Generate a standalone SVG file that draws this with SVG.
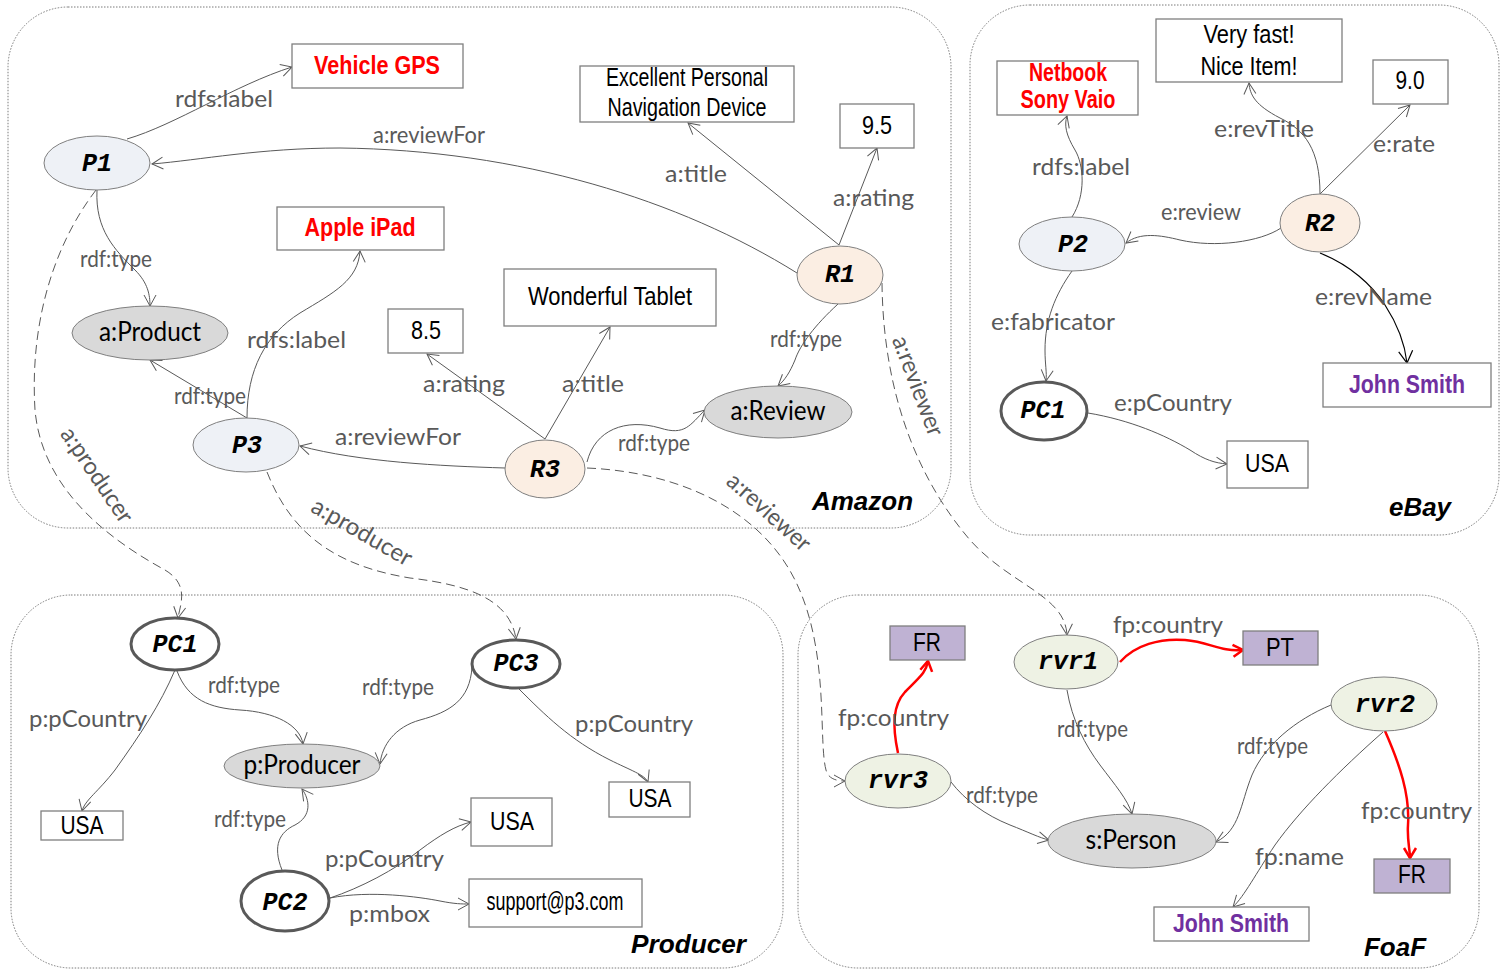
<svg xmlns="http://www.w3.org/2000/svg" width="1501" height="969" viewBox="0 0 1501 969">
<defs>
<style>
.cont{fill:none;stroke:#7a7a7a;stroke-width:1;stroke-dasharray:1.5 1.5}
.ct{font-family:"Liberation Sans",Arial,sans-serif;font-weight:bold;font-style:italic;font-size:26px;fill:#000}
.lbl{font-family:Lato,"Liberation Sans",sans-serif;font-size:24px;fill:#595959}
.bx{fill:#fff;stroke:#7f7f7f;stroke-width:1.3}
.bxp{fill:#bfb2d3;stroke:#7f7f7f;stroke-width:1.3}
.bt{font-family:"Liberation Sans Narrow","Liberation Sans",Arial,sans-serif;font-size:25px;fill:#000}
.red{fill:#ff0000;font-weight:bold}
.pur{fill:#7030a0;font-weight:bold}
.nt{font-family:"Liberation Mono","Courier New",monospace;font-weight:bold;font-style:italic;font-size:25px;fill:#000}
.ct2{font-family:Lato,"Liberation Sans",sans-serif;font-size:26px;fill:#000}
.np{fill:#eef1f6;stroke:#7f7f7f;stroke-width:1}
.nr{fill:#fbeee3;stroke:#7f7f7f;stroke-width:1}
.nc{fill:#d9d9d9;stroke:#7f7f7f;stroke-width:1}
.npc{fill:#fff;stroke:#595959;stroke-width:3}
.nv{fill:#eef2e4;stroke:#7f7f7f;stroke-width:1}
.e{fill:none;stroke:#595959;stroke-width:1;marker-end:url(#ah)}
.d{stroke-dasharray:9 5}
.re{fill:none;stroke:#ff0000;stroke-width:2.5;marker-end:url(#rh)}
.be{fill:none;stroke:#000;stroke-width:1.2;marker-end:url(#bh)}
</style>
<marker id="ah" markerUnits="userSpaceOnUse" markerWidth="16" markerHeight="16" refX="12" refY="7" orient="auto"><path d="M1,1 L12,7 L1,13" fill="none" stroke="#595959" stroke-width="1"/></marker>
<marker id="bh" markerUnits="userSpaceOnUse" markerWidth="18" markerHeight="18" refX="13" refY="8" orient="auto"><path d="M1,1 L13,8 L1,15" fill="none" stroke="#000" stroke-width="1.2"/></marker>
<marker id="rh" markerUnits="userSpaceOnUse" markerWidth="18" markerHeight="18" refX="12" refY="8" orient="auto"><path d="M2,2 L12,8 L2,14" fill="none" stroke="#ff0000" stroke-width="2.5"/></marker>
</defs>
<rect width="1501" height="969" fill="#fff"/>

<g id="containers">
<rect x="8" y="7" width="943" height="521" rx="60" class="cont"/>
<text x="812" y="510" class="ct" textLength="101" lengthAdjust="spacingAndGlyphs">Amazon</text>
<rect x="970" y="5" width="529" height="530" rx="60" class="cont"/>
<text x="1389" y="516" class="ct" textLength="62" lengthAdjust="spacingAndGlyphs">eBay</text>
<rect x="11" y="595" width="772" height="373" rx="60" class="cont"/>
<text x="631" y="953" class="ct" textLength="115" lengthAdjust="spacingAndGlyphs">Producer</text>
<rect x="798" y="595" width="681" height="373" rx="60" class="cont"/>
<text x="1364" y="956" class="ct" textLength="62" lengthAdjust="spacingAndGlyphs">FoaF</text>
</g>

<g id="connectors">
<!-- Amazon -->
<path class="e" d="M127,139 C175,125 235,85 292,67"/>
<text class="lbl" x="175" y="107" textLength="98" lengthAdjust="spacingAndGlyphs">rdfs:label</text>
<path class="e" d="M797,273 C680,200 520,150 340,148 C260,148 200,160 152,164"/>
<text class="lbl" x="373" y="143" textLength="112" lengthAdjust="spacingAndGlyphs">a:reviewFor</text>
<path class="e" d="M839,245 L688,123"/>
<text class="lbl" x="665" y="182" textLength="62" lengthAdjust="spacingAndGlyphs">a:title</text>
<path class="e" d="M839,245 L877,148"/>
<text class="lbl" x="833" y="206" textLength="81" lengthAdjust="spacingAndGlyphs">a:rating</text>
<path class="e" d="M97,190 C95,230 115,250 135,270 C148,283 150,295 150,306"/>
<text class="lbl" x="80" y="267" textLength="72" lengthAdjust="spacingAndGlyphs">rdf:type</text>
<path class="e" d="M247,418 C247,370 265,335 300,313 C335,292 358,280 360,251"/>
<text class="lbl" x="247" y="348" textLength="99" lengthAdjust="spacingAndGlyphs">rdfs:label</text>
<path class="e" d="M247,418 L150,360"/>
<text class="lbl" x="174" y="404" textLength="72" lengthAdjust="spacingAndGlyphs">rdf:type</text>
<path class="e" d="M545,439 L427,354"/>
<text class="lbl" x="423" y="392" textLength="82" lengthAdjust="spacingAndGlyphs">a:rating</text>
<path class="e" d="M545,439 L610,327"/>
<text class="lbl" x="562" y="392" textLength="62" lengthAdjust="spacingAndGlyphs">a:title</text>
<path class="e" d="M505,468 C440,466 360,462 300,446"/>
<text class="lbl" x="335" y="445" textLength="126" lengthAdjust="spacingAndGlyphs">a:reviewFor</text>
<path class="e" d="M587,462 C595,430 625,418 660,428 C685,436 690,425 705,410"/>
<text class="lbl" x="618" y="451" textLength="72" lengthAdjust="spacingAndGlyphs">rdf:type</text>
<path class="e" d="M838,304 C815,325 800,345 795,360 C790,372 785,380 778,386"/>
<text class="lbl" x="770" y="347" textLength="72" lengthAdjust="spacingAndGlyphs">rdf:type</text>
<path class="e d" d="M882,283 C883,380 910,470 970,540 C1010,585 1065,595 1067,635"/>
<text class="lbl" x="918" y="386" dy="8" text-anchor="middle" transform="rotate(69 918 386)" textLength="105" lengthAdjust="spacingAndGlyphs">a:reviewer</text>
<path class="e d" d="M587,468 C680,472 760,510 795,580 C830,650 818,740 826,770 C828,778 835,781 845,781"/>
<text class="lbl" x="769" y="512" dy="8" text-anchor="middle" transform="rotate(42 769 512)" textLength="104" lengthAdjust="spacingAndGlyphs">a:reviewer</text>
<path class="e d" d="M96,190 C50,250 30,330 35,410 C42,490 110,540 165,570 C190,585 180,605 178,618"/>
<text class="lbl" x="97" y="475" dy="8" text-anchor="middle" transform="rotate(56 97 475)" textLength="110" lengthAdjust="spacingAndGlyphs">a:producer</text>
<path class="e d" d="M267,472 C290,530 330,565 410,578 C470,585 510,600 516,639"/>
<text class="lbl" x="362" y="532" dy="8" text-anchor="middle" transform="rotate(30 362 532)" textLength="112" lengthAdjust="spacingAndGlyphs">a:producer</text>
<!-- eBay -->
<path class="e" d="M1072,217 C1086,195 1084,165 1075,150 C1066,135 1064,125 1067,116"/>
<text class="lbl" x="1032" y="175" textLength="98" lengthAdjust="spacingAndGlyphs">rdfs:label</text>
<path class="e" d="M1320,194 C1320,150 1305,130 1280,118 C1255,105 1250,95 1249,83"/>
<text class="lbl" x="1214" y="137" textLength="100" lengthAdjust="spacingAndGlyphs">e:revTitle</text>
<path class="e" d="M1320,194 L1410,105"/>
<text class="lbl" x="1373" y="152" textLength="62" lengthAdjust="spacingAndGlyphs">e:rate</text>
<path class="e" d="M1281,228 C1260,242 1215,248 1180,240 C1160,235 1140,232 1126,243"/>
<text class="lbl" x="1161" y="220" textLength="80" lengthAdjust="spacingAndGlyphs">e:review</text>
<path class="be" d="M1320,253 C1350,265 1372,285 1385,305 C1398,325 1405,345 1407,363"/>
<text class="lbl" x="1315" y="305" textLength="117" lengthAdjust="spacingAndGlyphs">e:revName</text>
<path class="e" d="M1072,271 C1055,295 1045,320 1045,350 C1045,365 1047,372 1046,381"/>
<text class="lbl" x="991" y="330" textLength="124" lengthAdjust="spacingAndGlyphs">e:fabricator</text>
<path class="e" d="M1088,413 C1130,420 1165,435 1190,450 C1205,460 1215,463 1227,464"/>
<text class="lbl" x="1114" y="411" textLength="118" lengthAdjust="spacingAndGlyphs">e:pCountry</text>
<!-- Producer -->
<path class="e" d="M175,670 C160,705 140,735 115,770 C98,792 85,800 82,811"/>
<text class="lbl" x="29" y="727" textLength="118" lengthAdjust="spacingAndGlyphs">p:pCountry</text>
<path class="e" d="M177,671 C188,700 210,708 240,710 C275,712 300,725 303,744"/>
<text class="lbl" x="208" y="693" textLength="72" lengthAdjust="spacingAndGlyphs">rdf:type</text>
<path class="e" d="M472,667 C470,700 450,712 420,720 C395,727 382,745 380,764"/>
<text class="lbl" x="362" y="695" textLength="72" lengthAdjust="spacingAndGlyphs">rdf:type</text>
<path class="e" d="M518,688 C545,715 570,740 610,760 C630,770 645,775 648,782"/>
<text class="lbl" x="575" y="732" textLength="118" lengthAdjust="spacingAndGlyphs">p:pCountry</text>
<path class="e" d="M282,870 C272,845 280,832 295,825 C312,816 310,800 302,789"/>
<text class="lbl" x="214" y="827" textLength="72" lengthAdjust="spacingAndGlyphs">rdf:type</text>
<path class="e" d="M330,898 C360,888 395,870 420,850 C440,835 455,826 471,822"/>
<text class="lbl" x="325" y="867" textLength="119" lengthAdjust="spacingAndGlyphs">p:pCountry</text>
<path class="e" d="M330,898 C370,890 420,897 440,901 C455,904 462,904 469,904"/>
<text class="lbl" x="349" y="922" textLength="81" lengthAdjust="spacingAndGlyphs">p:mbox</text>
<!-- FoaF -->
<path class="re" d="M898,753 C892,725 893,705 905,692 C922,675 926,672 928,661"/>
<text class="lbl" x="838" y="726" textLength="111" lengthAdjust="spacingAndGlyphs">fp:country</text>
<path class="re" d="M1120,662 C1135,645 1160,638 1185,640 C1210,642 1220,652 1243,650"/>
<text class="lbl" x="1113" y="633" textLength="110" lengthAdjust="spacingAndGlyphs">fp:country</text>
<path class="e" d="M1067,690 C1072,720 1085,745 1100,765 C1115,785 1128,800 1132,814"/>
<text class="lbl" x="1057" y="737" textLength="71" lengthAdjust="spacingAndGlyphs">rdf:type</text>
<path class="e" d="M951,782 C965,800 985,815 1010,825 C1028,832 1040,838 1049,840"/>
<text class="lbl" x="966" y="803" textLength="72" lengthAdjust="spacingAndGlyphs">rdf:type</text>
<path class="e" d="M1331,705 C1295,720 1265,745 1252,775 C1240,805 1240,830 1216,842"/>
<text class="lbl" x="1237" y="754" textLength="71" lengthAdjust="spacingAndGlyphs">rdf:type</text>
<path class="e" d="M1383,732 C1340,770 1300,810 1275,845 C1255,875 1245,895 1233,907"/>
<text class="lbl" x="1255" y="865" textLength="89" lengthAdjust="spacingAndGlyphs">fp:name</text>
<path class="re" d="M1385,731 C1400,765 1410,795 1408,825 C1407,840 1410,850 1410,858"/>
<text class="lbl" x="1361" y="819" textLength="111" lengthAdjust="spacingAndGlyphs">fp:country</text>
</g>

<!-- Amazon nodes -->
<g id="P1"><ellipse cx="97" cy="163" rx="53" ry="27" class="np"/><text x="97" y="171" class="nt" text-anchor="middle">P1</text></g>
<g id="vehicle-gps"><rect x="292" y="44" width="171" height="44" class="bx"/><text x="377" y="74" class="bt red" text-anchor="middle" textLength="126" lengthAdjust="spacingAndGlyphs">Vehicle GPS</text></g>
<g id="excellent"><rect x="580" y="66" width="214" height="56" class="bx"/><text x="687" y="86" class="bt" font-size="21" text-anchor="middle" textLength="162" lengthAdjust="spacingAndGlyphs">Excellent Personal</text><text x="687" y="116" class="bt" font-size="21" text-anchor="middle" textLength="159" lengthAdjust="spacingAndGlyphs">Navigation Device</text></g>
<g id="r95"><rect x="840" y="104" width="74" height="44" class="bx"/><text x="877" y="134" class="bt" font-size="24" text-anchor="middle" textLength="30" lengthAdjust="spacingAndGlyphs">9.5</text></g>
<g id="R1"><ellipse cx="840" cy="275" rx="43" ry="29" class="nr"/><text x="840" y="282" class="nt" text-anchor="middle">R1</text></g>
<g id="apple-ipad"><rect x="277" y="207" width="167" height="43" class="bx"/><text x="360" y="236" class="bt red" text-anchor="middle" textLength="111" lengthAdjust="spacingAndGlyphs">Apple iPad</text></g>
<g id="a-product"><ellipse cx="150" cy="333" rx="78" ry="27" class="nc"/><text x="150" y="341" class="ct2" text-anchor="middle" textLength="102" lengthAdjust="spacingAndGlyphs">a:Product</text></g>
<g id="wonderful"><rect x="504" y="269" width="212" height="57" class="bx"/><text x="610" y="305" class="bt" font-size="24" text-anchor="middle" textLength="164" lengthAdjust="spacingAndGlyphs">Wonderful Tablet</text></g>
<g id="r85"><rect x="388" y="309" width="75" height="44" class="bx"/><text x="426" y="339" class="bt" text-anchor="middle" textLength="30" lengthAdjust="spacingAndGlyphs">8.5</text></g>
<g id="a-review"><ellipse cx="778" cy="412" rx="74" ry="26" class="nc"/><text x="778" y="420" class="ct2" text-anchor="middle" textLength="95" lengthAdjust="spacingAndGlyphs">a:Review</text></g>
<g id="P3"><ellipse cx="246" cy="445" rx="53" ry="27" class="np"/><text x="247" y="453" class="nt" text-anchor="middle">P3</text></g>
<g id="R3"><ellipse cx="545" cy="469" rx="40" ry="29" class="nr"/><text x="545" y="477" class="nt" text-anchor="middle">R3</text></g>

<!-- eBay nodes -->
<g id="netbook"><rect x="997" y="61" width="141" height="54" class="bx"/><text x="1068" y="81" class="bt red" font-size="23" text-anchor="middle" textLength="78" lengthAdjust="spacingAndGlyphs">Netbook</text><text x="1068" y="108" class="bt red" font-size="23" text-anchor="middle" textLength="95" lengthAdjust="spacingAndGlyphs">Sony Vaio</text></g>
<g id="very-fast"><rect x="1156" y="19" width="186" height="63" class="bx"/><text x="1249" y="43" class="bt" text-anchor="middle" textLength="91" lengthAdjust="spacingAndGlyphs">Very fast!</text><text x="1249" y="75" class="bt" text-anchor="middle" textLength="97" lengthAdjust="spacingAndGlyphs">Nice Item!</text></g>
<g id="r90"><rect x="1373" y="60" width="75" height="44" class="bx"/><text x="1410" y="89" class="bt" text-anchor="middle" textLength="29" lengthAdjust="spacingAndGlyphs">9.0</text></g>
<g id="P2"><ellipse cx="1072" cy="244" rx="53" ry="27" class="np"/><text x="1073" y="252" class="nt" text-anchor="middle">P2</text></g>
<g id="R2"><ellipse cx="1320" cy="223" rx="40" ry="29" class="nr"/><text x="1320" y="231" class="nt" text-anchor="middle">R2</text></g>
<g id="john-smith-ebay"><rect x="1323" y="363" width="168" height="44" class="bx"/><text x="1407" y="393" class="bt pur" text-anchor="middle" textLength="116" lengthAdjust="spacingAndGlyphs">John Smith</text></g>
<g id="PC1-ebay"><ellipse cx="1044" cy="411" rx="43" ry="29" class="npc"/><text x="1043" y="418" class="nt" text-anchor="middle">PC1</text></g>
<g id="usa-ebay"><rect x="1227" y="441" width="81" height="47" class="bx"/><text x="1267" y="472" class="bt" font-size="24" text-anchor="middle" textLength="44" lengthAdjust="spacingAndGlyphs">USA</text></g>

<!-- Producer nodes -->
<g id="PC1"><ellipse cx="175" cy="644" rx="44" ry="26" class="npc"/><text x="175" y="652" class="nt" text-anchor="middle">PC1</text></g>
<g id="PC3"><ellipse cx="516" cy="664" rx="44" ry="24" class="npc"/><text x="516" y="671" class="nt" text-anchor="middle">PC3</text></g>
<g id="p-producer"><ellipse cx="302" cy="766" rx="78" ry="22" class="nc"/><text x="302" y="774" class="ct2" text-anchor="middle" textLength="117" lengthAdjust="spacingAndGlyphs">p:Producer</text></g>
<g id="usa-left"><rect x="41" y="811" width="82" height="29" class="bx"/><text x="82" y="834" class="bt" text-anchor="middle" textLength="43" lengthAdjust="spacingAndGlyphs">USA</text></g>
<g id="usa-right"><rect x="609" y="782" width="81" height="35" class="bx"/><text x="650" y="807" class="bt" text-anchor="middle" textLength="43" lengthAdjust="spacingAndGlyphs">USA</text></g>
<g id="usa-mid"><rect x="471" y="798" width="81" height="48" class="bx"/><text x="512" y="830" class="bt" text-anchor="middle" textLength="44" lengthAdjust="spacingAndGlyphs">USA</text></g>
<g id="support"><rect x="469" y="879" width="173" height="48" class="bx"/><text x="555" y="910" class="bt" font-size="21" text-anchor="middle" textLength="137" lengthAdjust="spacingAndGlyphs">support@p3.com</text></g>
<g id="PC2"><ellipse cx="285" cy="901" rx="44" ry="30" class="npc"/><text x="285" y="910" class="nt" text-anchor="middle">PC2</text></g>

<!-- FoaF nodes -->
<g id="fr-left"><rect x="890" y="626" width="75" height="34" class="bxp"/><text x="927" y="651" class="bt" text-anchor="middle" textLength="28" lengthAdjust="spacingAndGlyphs">FR</text></g>
<g id="rvr1"><ellipse cx="1066" cy="662" rx="52" ry="27" class="nv"/><text x="1068" y="669" class="nt" text-anchor="middle">rvr1</text></g>
<g id="pt"><rect x="1243" y="631" width="75" height="34" class="bxp"/><text x="1280" y="656" class="bt" text-anchor="middle" textLength="28" lengthAdjust="spacingAndGlyphs">PT</text></g>
<g id="rvr2"><ellipse cx="1384" cy="704" rx="53" ry="27" class="nv"/><text x="1385" y="712" class="nt" text-anchor="middle">rvr2</text></g>
<g id="rvr3"><ellipse cx="898" cy="781" rx="53" ry="27" class="nv"/><text x="898" y="788" class="nt" text-anchor="middle">rvr3</text></g>
<g id="s-person"><ellipse cx="1132" cy="841" rx="84" ry="27" class="nc"/><text x="1131" y="849" class="ct2" text-anchor="middle" textLength="91" lengthAdjust="spacingAndGlyphs">s:Person</text></g>
<g id="fr-right"><rect x="1374" y="859" width="76" height="34" class="bxp"/><text x="1412" y="883" class="bt" text-anchor="middle" textLength="28" lengthAdjust="spacingAndGlyphs">FR</text></g>
<g id="john-smith-foaf"><rect x="1154" y="907" width="155" height="34" class="bx"/><text x="1231" y="932" class="bt pur" text-anchor="middle" textLength="116" lengthAdjust="spacingAndGlyphs">John Smith</text></g>
</svg>
